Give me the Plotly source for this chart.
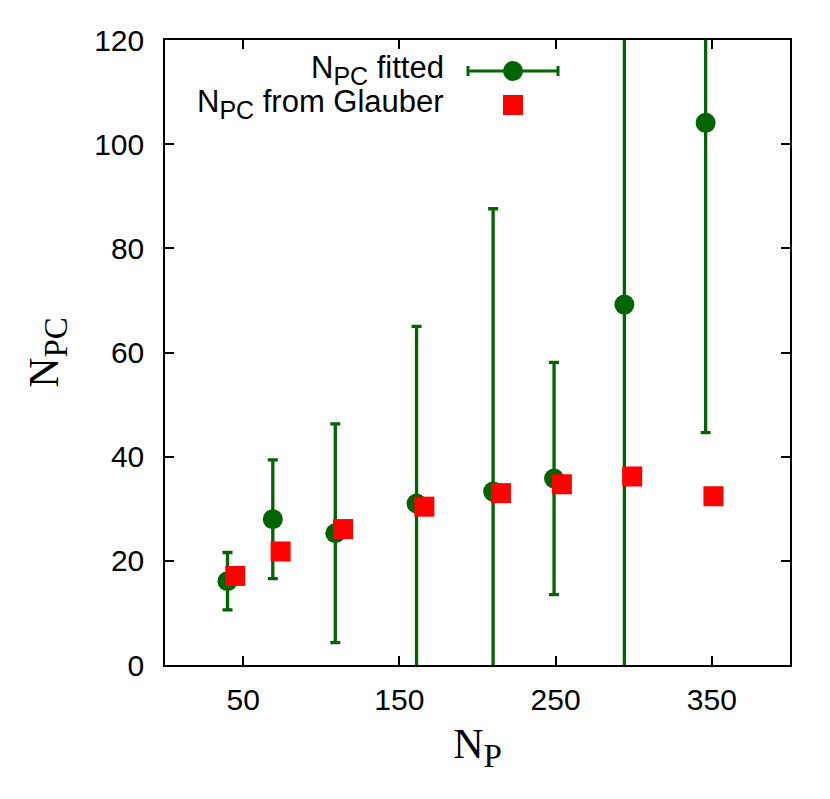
import plotly.graph_objects as go

# fitted N_PC with errors
np_fit = [40, 69, 109, 161, 210, 249, 294, 346]
npc_fit = [16.1, 28.0, 25.3, 31.0, 33.3, 35.8, 69.2, 104.1]
npc_err = [5.5, 11.4, 21.0, 34.0, 54.3, 22.3, 75.0, 59.5]

# Glauber values
np_glauber = [45, 74, 114, 166, 215, 254, 299, 351]
npc_glauber = [17.1, 21.8, 26.1, 30.4, 33.0, 34.7, 36.2, 32.4]

x_ticks = [50, 150, 250, 350]

GREEN = "#006400"
RED = "#ff0000"
SANS = "Liberation Sans, Arial, sans-serif"
SERIF = "Liberation Serif, Times New Roman, serif"

fig = go.Figure()
fig.add_trace(go.Scatter(
    x=np_fit, y=npc_fit, mode="markers", name="fitted",
    marker=dict(color=GREEN, size=20, symbol="circle"),
    error_y=dict(type="data", array=npc_err, visible=True,
                 color=GREEN, thickness=3.3, width=5),
    showlegend=False))
fig.add_trace(go.Scatter(
    x=np_glauber, y=npc_glauber, mode="markers", name="Glauber",
    marker=dict(color=RED, size=20, symbol="square", line=dict(width=0)),
    showlegend=False))

# legend drawn by hand (gnuplot style: text left, sample right)
# page body has an 8px margin, so pixel helpers subtract it
def px(x):
    return (x - 165) / 625

def py(y):
    return (665 - y) / 625

sub = "<sub><span style='font-size:25px'>PC</span></sub>"
fig.add_annotation(x=px(446), y=py(70), xref="paper", yref="paper",
                   xanchor="right", yanchor="middle", showarrow=False,
                   text="N" + sub + " fitted", font=dict(family=SANS, size=31, color="black"))
fig.add_annotation(x=px(446), y=py(104), xref="paper", yref="paper",
                   xanchor="right", yanchor="middle", showarrow=False,
                   text="N" + sub + " from Glauber", font=dict(family=SANS, size=31, color="black"))
ly = py(71)
fig.add_shape(type="line", xref="paper", yref="paper", x0=px(468), x1=px(558), y0=ly, y1=ly,
              line=dict(color=GREEN, width=3))
for cx in (468, 558):
    fig.add_shape(type="line", xref="paper", yref="paper", x0=px(cx), x1=px(cx),
                  y0=py(66), y1=py(76), line=dict(color=GREEN, width=3))
fig.add_shape(type="circle", xref="paper", yref="paper", xsizemode="pixel", ysizemode="pixel",
              xanchor=px(513), yanchor=ly, x0=-10, x1=10, y0=-10, y1=10,
              fillcolor=GREEN, line=dict(width=0))
fig.add_shape(type="rect", xref="paper", yref="paper", xsizemode="pixel", ysizemode="pixel",
              xanchor=px(513), yanchor=py(105), x0=-10, x1=10, y0=-10, y1=10,
              fillcolor=RED, line=dict(width=0))

axis_common = dict(showline=True, linecolor="black", linewidth=1.5, mirror="ticks",
                   ticks="inside", ticklen=9, tickwidth=1.5, tickcolor="black",
                   showgrid=False, zeroline=False,
                   tickfont=dict(family=SANS, size=30, color="black"))

fig.update_xaxes(range=[0, 400], tickvals=x_ticks, ticklabelstandoff=7,
                 title=dict(text="N<sub><span style='font-size:33px'>P</span></sub>",
                            font=dict(family=SERIF, size=42, color="black"), standoff=14),
                 **axis_common)
fig.update_yaxes(range=[0, 120], dtick=20, ticklabelstandoff=13,
                 title=dict(text="N<sub><span style='font-size:33px'>PC</span></sub>",
                            font=dict(family=SERIF, size=42, color="black"), standoff=22),
                 **axis_common)

fig.update_layout(width=822, height=790, plot_bgcolor="white", paper_bgcolor="white",
                  margin=dict(l=157, r=40, t=32, b=133))

fig.write_html("out.html")
